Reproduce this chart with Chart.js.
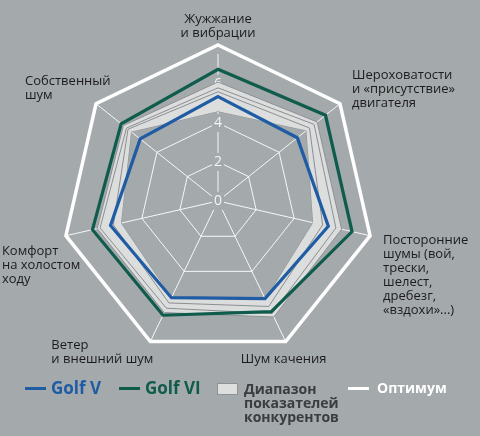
<!DOCTYPE html>
<html>
<head>
<meta charset="utf-8">
<style>
  body {
    margin: 0;
    padding: 0;
    background: #a4a9ac;
    font-family: "Open Sans", sans-serif;
  }
  #wrap { position: relative; width: 480px; height: 436px; }
  #chart-box { position: absolute; left: 0; top: 0; width: 480px; height: 436px; }

  /* legend under the chart */
  .mark { position: absolute; height: 3px; width: 21px; }
  .txt { position: absolute; font-weight: bold; white-space: nowrap; }
  .big { font-size: 17px; line-height: 20px; top: 378px; }
  .small { font-size: 14px; line-height: 14px; }
</style>
<script src="https://cdn.jsdelivr.net/npm/chart.js"></script>
</head>
<body>
<div id="wrap">
  <div id="chart-box"><canvas id="chart"></canvas></div>

  <div class="mark" style="left:25px; top:387px; background:#1f5ca3;"></div>
  <div class="txt big" style="left:51px; color:#1f5ca3;">Golf V</div>

  <div class="mark" style="left:119px; top:387px; background:#0f5b4c;"></div>
  <div class="txt big" style="left:145px; color:#0f5b4c;">Golf VI</div>

  <div style="position:absolute; left:217px; top:383px; width:19px; height:10px; background:#dddede; border:1px solid #8f9295;"></div>
  <div class="txt small" style="left:244px; top:382px; color:#3a3c3e;">Диапазон<br>показателей<br>конкурентов</div>

  <div class="mark" style="left:348px; top:387px; background:#ffffff;"></div>
  <div class="txt small" style="left:377px; top:381px; color:#ffffff;">Оптимум</div>
</div>

<script>
  // Axis names, clockwise from the top
  const categories = [
    ['Жужжание', 'и вибрации'],
    ['Шероховатости', 'и «присутствие»', 'двигателя'],
    ['Посторонние', 'шумы (вой,', 'трески,', 'шелест,', 'дребезг,', '«вздохи»...)'],
    ['Шум качения'],
    ['Ветер', 'и внешний шум'],
    ['Комфорт', 'на холостом', 'ходу'],
    ['Собственный', 'шум']
  ];

  const golfV    = [5.35, 5.2, 5.8, 5.55, 5.5, 5.65, 5.1];
  const golfVI   = [6.75, 7.05, 7.05, 6.3, 6.5, 6.6, 6.35];
  const rangeMax = [6.1, 6.5, 6.5, 6.6, 6.35, 6.35, 6.2];
  const rangeMin = [4.6, 5.8, 5.0, 5.6, 5.5, 5.1, 5.7];
  const rivalA   = [5.8, 6.3, 6.2, 6.4, 6.1, 6.2, 6.0];
  const rivalB   = [5.6, 6.0, 5.5, 6.0, 5.8, 5.5, 5.9];
  const optimum  = [8, 8, 8, 8, 8, 8, 8];
  const tickValues = [0, 2, 4, 6, 8];

  const bg = '#a4a9ac';

  // where each axis name sits relative to the outer vertex
  const labelLayout = [
    { align: 'center', dx: 0,   dy: -26 },
    { align: 'left',   dx: 12,  dy: -28 },
    { align: 'left',   dx: 13,  dy: 5 },
    { align: 'center', dx: -2,  dy: 18 },
    { align: 'left',   dx: -99, dy: 3.5 },
    { align: 'left',   dx: -64, dy: 15.5 },
    { align: 'left',   dx: -71, dy: -22 }
  ];

  const axisNames = {
    id: 'axisNames',
    afterDraw(chart) {
      const scale = chart.scales.r;
      const ctx = chart.ctx;
      const r = scale.getDistanceFromCenterForValue(8);
      ctx.save();
      ctx.font = '13px "Open Sans"';
      ctx.fillStyle = '#1c1c1c';
      ctx.textBaseline = 'middle';
      categories.forEach((lines, i) => {
        const p = scale.getPointPosition(i, r);
        const lay = labelLayout[i];
        ctx.textAlign = lay.align;
        lines.forEach((t, k) => {
          ctx.fillText(t, p.x + lay.dx, p.y + lay.dy + k * 14);
        });
      });
      ctx.restore();
    }
  };

  function line(data, color, width) {
    return {
      data: data,
      borderColor: color,
      borderWidth: width,
      backgroundColor: 'transparent',
      fill: false,
      pointRadius: 0,
      tension: 0
    };
  }

  const ctx = document.getElementById('chart').getContext('2d');
  const chart = new Chart(ctx, {
    type: 'radar',
    data: {
      labels: categories,
      datasets: [
        Object.assign(line(golfV, '#1f5ca3', 3.2), { label: 'Golf V' }),
        Object.assign(line(golfVI, '#0f5b4c', 3.2), { label: 'Golf VI' }),
        Object.assign(line(rivalA, '#8c8f92', 1), { label: 'rivalA' }),
        Object.assign(line(rivalB, '#8c8f92', 1), { label: 'rivalB' }),
        Object.assign(line(rangeMax, '#8f9295', 1), {
          label: 'range max', fill: '+1', backgroundColor: '#dcdddd'
        }),
        Object.assign(line(rangeMin, '#8f9295', 1), { label: 'range min' }),
        Object.assign(line(optimum, '#ffffff', 3.5), { label: 'Оптимум' })
      ]
    },
    options: {
      responsive: true,
      maintainAspectRatio: false,
      animation: false,
      layout: {
        padding: { left: 53, right: 97, top: 36, bottom: 70 }
      },
      plugins: {
        legend: { display: false },
        tooltip: { enabled: false }
      },
      scales: {
        r: {
          min: -0.01,
          max: 8,
          afterBuildTicks: function (scale) {
            scale.ticks = tickValues.map(v => ({ value: v }));
          },
          grid: { color: 'rgba(255,255,255,0.9)', lineWidth: 1 },
          angleLines: { color: 'rgba(255,255,255,0.9)', lineWidth: 1 },
          pointLabels: { display: false },
          ticks: {
            color: '#f4f4f4',
            font: { size: 14, family: 'Open Sans', lineHeight: 1.2 },
            showLabelBackdrop: true,
            backdropColor: bg,
            backdropPadding: 2,
            callback: function (value) {
              return value === 8 ? '' : String(value);
            }
          }
        }
      }
    },
    plugins: [axisNames]
  });
</script>
</body>
</html>
